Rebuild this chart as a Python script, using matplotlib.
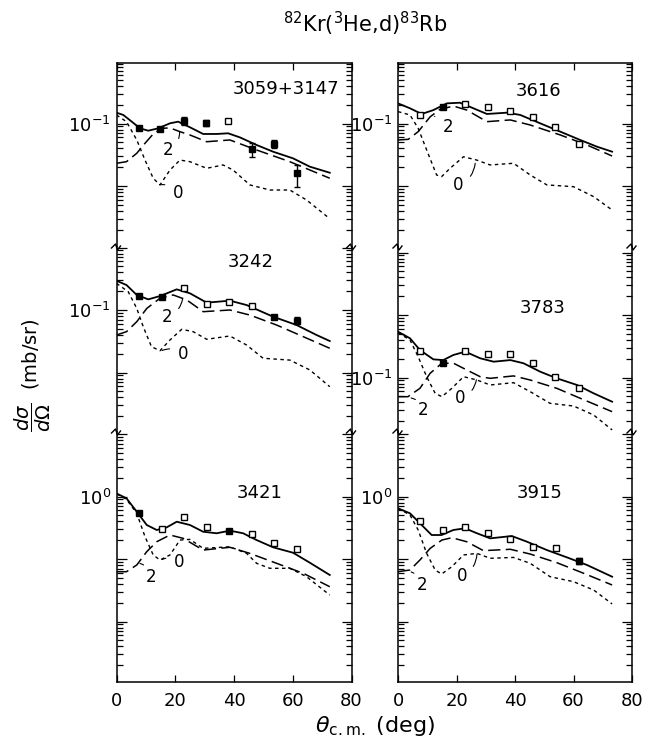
import numpy as np
import matplotlib
matplotlib.use('Agg')
import matplotlib.pyplot as plt
from matplotlib.lines import Line2D
from matplotlib.ticker import LogLocator, FixedLocator, NullFormatter, FuncFormatter

plt.rcParams['font.family'] = 'DejaVu Sans'
plt.rcParams['mathtext.fontset'] = 'dejavusans'

# ---------------- 3059+3147 ----------------
th_a_sum = [0, 2.3, 5.2, 8.0, 10.8, 14.2, 18.2, 21.0, 25.0, 29.5, 34.1, 38.0, 42.0, 47.7, 53.3, 60.1, 65.8, 72.6]
a_sum = [0.149, 0.137, 0.107, 0.0837, 0.0767, 0.0837, 0.1007, 0.107, 0.087, 0.068, 0.068, 0.0697, 0.060, 0.0453, 0.0354, 0.0277, 0.0204, 0.0163]
th_a_l2 = [0, 3.4, 6.9, 9.7, 12.5, 15.4, 18.2, 21.6, 25.0, 30.7, 38.6, 47.7, 59.0, 72.6]
a_l2 = [0.0231, 0.0245, 0.0334, 0.0482, 0.068, 0.0837, 0.085, 0.074, 0.0655, 0.0511, 0.0545, 0.0377, 0.0245, 0.0133]
th_a_l0 = [0, 3.4, 6.9, 9.7, 12.5, 14.8, 18.2, 21.6, 25.0, 30.7, 36.3, 39.7, 45.4, 52.2, 59.0, 64.7, 72.6]
a_l0 = [0.137, 0.107, 0.0545, 0.026, 0.0133, 0.0104, 0.018, 0.026, 0.0245, 0.0192, 0.0217, 0.018, 0.0104, 0.00863, 0.00863, 0.00597, 0.0030]
th_a_exp = [7.8, 14.8, 23.0, 30.4, 38.0, 46.0, 53.7, 61.3]
a_exp = [0.0837, 0.0808, 0.110, 0.103, 0.111, 0.0387, 0.0465, 0.016]
a_lo = [0.0837, 0.0808, 0.095, 0.092, 0.111, 0.0287, 0.040, 0.00975]
a_hi = [0.0837, 0.0808, 0.127, 0.115, 0.111, 0.0482, 0.054, 0.0217]
a_fill = [1, 1, 1, 1, 0, 1, 1, 1]

# ---------------- 3616 ----------------
th_b_sum = [0, 4.1, 8.1, 12.1, 16.7, 21.2, 25.8, 30.4, 37.2, 41.8, 48.6, 55.5, 62.3, 68.0, 73.2]
b_sum = [0.21, 0.175, 0.142, 0.164, 0.21, 0.215, 0.175, 0.142, 0.149, 0.137, 0.1007, 0.074, 0.0545, 0.0426, 0.0354]
th_b_l2 = [0, 3.5, 6.9, 11.0, 14.4, 19.0, 23.5, 30.4, 38.4, 45.2, 55.5, 64.6, 73.2]
b_l2 = [0.0545, 0.0558, 0.074, 0.128, 0.169, 0.19, 0.164, 0.107, 0.114, 0.0946, 0.0655, 0.0453, 0.0302]
th_b_l0 = [0, 4.1, 6.9, 9.8, 13.2, 14.9, 17.8, 22.4, 26.9, 31.5, 39.5, 45.2, 50.9, 60.0, 66.9, 73.2]
b_l0 = [0.155, 0.137, 0.0837, 0.0377, 0.015, 0.0141, 0.0192, 0.0294, 0.026, 0.0217, 0.0231, 0.015, 0.0104, 0.00975, 0.00675, 0.00413]
th_b_exp = [7.5, 15.3, 23.0, 30.6, 38.4, 46.1, 53.8, 61.8]
b_exp = [0.137, 0.182, 0.203, 0.182, 0.16, 0.126, 0.087, 0.047]
b_fill = [0, 1, 0, 0, 0, 0, 0, 0]

# ---------------- 3242 ----------------
th_c_sum = [0, 3.4, 6.9, 10.8, 14.8, 20.5, 25.0, 30.7, 38.6, 44.3, 53.3, 61.3, 68.1, 72.6]
c_sum = [0.294, 0.251, 0.174, 0.148, 0.167, 0.214, 0.185, 0.131, 0.141, 0.12, 0.0782, 0.0575, 0.0398, 0.0319]
th_c_l2 = [0, 3.4, 6.9, 10.3, 14.8, 19.3, 23.9, 29.5, 38.6, 45.4, 54.5, 63.6, 72.6]
c_l2 = [0.0398, 0.045, 0.065, 0.106, 0.154, 0.174, 0.145, 0.094, 0.1, 0.083, 0.0575, 0.0374, 0.0244]
th_c_l0 = [0, 4.0, 6.9, 9.1, 11.9, 14.8, 18.2, 22.2, 26.1, 30.7, 38.6, 44.3, 49.9, 59.0, 65.8, 72.6]
c_l0 = [0.267, 0.196, 0.106, 0.054, 0.0259, 0.0223, 0.0331, 0.0491, 0.045, 0.034, 0.0384, 0.0275, 0.0169, 0.0158, 0.011, 0.00593]
th_c_exp = [7.8, 15.4, 23.1, 30.7, 38.4, 46.0, 53.7, 61.5]
c_exp = [0.167, 0.16, 0.222, 0.125, 0.133, 0.117, 0.078, 0.0675]
c_lo = [0.167, 0.16, 0.222, 0.125, 0.133, 0.117, 0.078, 0.059]
c_hi = [0.167, 0.16, 0.222, 0.125, 0.133, 0.117, 0.078, 0.077]
c_fill = [1, 1, 0, 0, 0, 0, 1, 1]

# ---------------- 3783 ----------------
th_d_sum = [0, 4.1, 7.5, 12.1, 15.5, 18.9, 23.0, 28.1, 32.7, 38.4, 42.9, 48.6, 54.3, 61.2, 66.9, 73.2]
d_sum = [0.541, 0.424, 0.275, 0.195, 0.19, 0.229, 0.259, 0.203, 0.179, 0.19, 0.169, 0.124, 0.097, 0.0759, 0.0558, 0.041]
th_d_l2 = [0, 3.4, 7.5, 11.0, 15.0, 19.0, 23.5, 28.1, 31.5, 39.5, 45.2, 54.3, 62.3, 73.2]
d_l2 = [0.0493, 0.0493, 0.0671, 0.117, 0.169, 0.169, 0.132, 0.103, 0.097, 0.106, 0.0912, 0.0671, 0.0465, 0.0284]
th_d_l0 = [0, 4.1, 6.9, 9.8, 12.7, 15.0, 18.4, 22.4, 27.0, 31.5, 39.5, 45.2, 52.0, 60.0, 66.9, 73.2]
d_l0 = [0.521, 0.398, 0.215, 0.103, 0.0558, 0.0493, 0.0671, 0.103, 0.0912, 0.0759, 0.0826, 0.0593, 0.0386, 0.035, 0.0251, 0.0145]
th_d_exp = [7.5, 15.3, 23.0, 30.6, 38.4, 46.1, 53.8, 61.8]
d_exp = [0.268, 0.169, 0.268, 0.235, 0.235, 0.172, 0.1007, 0.0671]
d_fill = [0, 1, 0, 0, 0, 0, 0, 0]

# ---------------- 3421 ----------------
th_e_sum = [0, 3.4, 6.9, 10.3, 13.7, 17.1, 20.5, 25.0, 29.5, 34.1, 38.6, 43.1, 47.7, 53.3, 60.1, 65.8, 72.6]
e_sum = [1.12, 0.936, 0.571, 0.35, 0.291, 0.321, 0.395, 0.35, 0.273, 0.258, 0.284, 0.258, 0.201, 0.154, 0.126, 0.0873, 0.0555]
th_e_l2 = [0, 3.4, 6.9, 10.3, 13.7, 18.2, 22.7, 29.5, 38.6, 45.4, 54.5, 63.6, 72.6]
e_l2 = [0.0626, 0.0626, 0.0802, 0.131, 0.189, 0.242, 0.214, 0.139, 0.154, 0.123, 0.0853, 0.059, 0.036]
th_e_l0 = [0, 3.4, 6.9, 9.7, 12.5, 14.8, 18.2, 21.6, 25.0, 29.5, 38.6, 44.3, 47.7, 52.2, 59.0, 64.7, 72.6]
e_l0 = [1.1, 0.9, 0.538, 0.228, 0.116, 0.0964, 0.116, 0.201, 0.206, 0.148, 0.157, 0.123, 0.0853, 0.071, 0.071, 0.0521, 0.0265]
th_e_exp = [7.8, 15.4, 23.1, 30.7, 38.4, 46.0, 53.7, 61.5]
e_exp = [0.551, 0.299, 0.465, 0.329, 0.284, 0.251, 0.178, 0.143]
e_fill = [1, 0, 0, 0, 1, 0, 0, 0]

# ---------------- 3915 ----------------
th_f_sum = [0, 4.1, 7.5, 11.5, 14.9, 18.9, 22.9, 27.0, 31.5, 38.9, 44.1, 50.9, 57.8, 64.6, 73.2]
f_sum = [0.647, 0.538, 0.373, 0.242, 0.242, 0.291, 0.31, 0.258, 0.214, 0.233, 0.189, 0.139, 0.106, 0.0802, 0.0521]
th_f_l2 = [0, 4.1, 7.5, 11.0, 15.0, 18.4, 23.5, 29.2, 38.4, 45.2, 54.3, 63.5, 73.2]
f_l2 = [0.0626, 0.0667, 0.0964, 0.148, 0.201, 0.219, 0.189, 0.136, 0.143, 0.12, 0.0873, 0.059, 0.0384]
th_f_l0 = [0, 4.1, 6.9, 9.8, 12.7, 14.9, 18.4, 22.4, 27.0, 31.5, 39.5, 45.2, 52.0, 60.0, 66.9, 73.2]
f_l0 = [0.647, 0.506, 0.291, 0.123, 0.0667, 0.0575, 0.0753, 0.116, 0.123, 0.1026, 0.106, 0.0853, 0.0521, 0.0434, 0.0319, 0.0191]
th_f_exp = [7.5, 15.3, 23.0, 30.6, 38.4, 46.1, 54.0, 62.0]
f_exp = [0.406, 0.291, 0.321, 0.258, 0.207, 0.157, 0.152, 0.094]
f_lo = [0.406, 0.291, 0.321, 0.258, 0.207, 0.157, 0.152, 0.084]
f_hi = [0.406, 0.291, 0.321, 0.258, 0.207, 0.157, 0.152, 0.105]
f_fill = [0, 0, 0, 0, 0, 0, 0, 1]

W, H = 653, 746
fig = plt.figure(figsize=(W / 100, H / 100), dpi=100)

def fx(px):
    return px / W

def fy(py):
    return 1 - py / H

col_x = [116.5, 398]
col_w = [235, 234]
rows = [(63, 247), (247, 432), (432, 682)]

def make_ax(col, row, ylim, lab):
    x0 = col_x[col]
    top, bot = rows[row]
    ax = fig.add_axes([fx(x0), fy(bot), fx(col_w[col]), (bot - top) / H])
    ax.set_yscale('log')
    ax.set_xlim(0, 80)
    ax.set_ylim(*ylim)
    ax.yaxis.set_major_locator(LogLocator(base=10, numticks=20))
    ax.yaxis.set_minor_locator(LogLocator(base=10, subs=np.arange(2, 10), numticks=20))
    ax.yaxis.set_minor_formatter(NullFormatter())
    ax.yaxis.set_major_formatter(FuncFormatter(
        lambda v, p, lab=lab: (r'$10^{%d}$' % lab) if abs(np.log10(v) - lab) < 1e-6 else ''))
    ax.tick_params(axis='y', which='both', direction='in', left=True, right=True, width=0.9)
    ax.tick_params(axis='y', which='major', length=7, labelsize=13, pad=4)
    ax.tick_params(axis='y', which='minor', length=4)
    ax.xaxis.set_major_locator(FixedLocator([0, 20, 40, 60, 80]))
    for s in ax.spines.values():
        s.set_linewidth(1.1)
    if row == 0:
        ax.spines['bottom'].set_visible(False)
        ax.tick_params(axis='x', bottom=False, top=True, labelbottom=False, direction='in', length=5, width=0.9)
    elif row == 1:
        ax.spines['bottom'].set_visible(False)
        ax.spines['top'].set_visible(False)
        ax.tick_params(axis='x', bottom=False, top=False, labelbottom=False)
    else:
        ax.spines['top'].set_visible(False)
        ax.tick_params(axis='x', bottom=True, top=False, direction='in', length=5, width=0.9,
                       labelsize=13, pad=7)
    return ax

def draw(ax, th_s, v_s, th_2, v_2, th_0, v_0, th_x, v_x, fill, lo=None, hi=None):
    ax.plot(th_s, v_s, color='black', lw=1.3, solid_joinstyle='round')
    ax.plot(th_2, v_2, color='black', lw=1.1, dashes=(8, 3.5))
    ax.plot(th_0, v_0, color='black', lw=1.0, dashes=(2.5, 2.5))
    th_x = np.array(th_x)
    v_x = np.array(v_x)
    fill = np.array(fill, dtype=bool)
    if lo is not None:
        lo = np.array(lo)
        hi = np.array(hi)
        has = (hi - lo) > 0
        ax.errorbar(th_x[has], v_x[has], yerr=[v_x[has] - lo[has], hi[has] - v_x[has]],
                    fmt='none', ecolor='black', elinewidth=1.0, capsize=2.2, capthick=1.0)
    ax.plot(th_x[fill], v_x[fill], 's', ms=4.5, mfc='black', mec='black', mew=1.0)
    ax.plot(th_x[~fill], v_x[~fill], 's', ms=4.5, mfc='white', mec='black', mew=1.0)

def lab(ax, txt, tx, ty, px, py):
    ax.annotate(txt, xy=(px, py), xytext=(tx, ty), fontsize=12, ha='center', va='center',
                arrowprops=dict(arrowstyle='-', lw=0.8, color='black', shrinkA=4, shrinkB=0,
                                connectionstyle='arc3,rad=0.3'))

def name(ax, txt, x, y):
    ax.text(x, y, txt, transform=ax.transAxes, fontsize=13, ha='center', va='center')

ax = make_ax(0, 0, (10 ** -2.976, 10 ** -0.032), -1)
draw(ax, th_a_sum, a_sum, th_a_l2, a_l2, th_a_l0, a_l0, th_a_exp, a_exp, a_fill, a_lo, a_hi)
lab(ax, '2', 17.6, 0.037, 21.5, 0.074)
lab(ax, '0', 21.0, 0.0076, 15.0, 0.0105)
name(ax, '3059+3147', 0.72, 0.86)

ax = make_ax(1, 0, (10 ** -2.976, 10 ** -0.032), -1)
draw(ax, th_b_sum, b_sum, th_b_l2, b_l2, th_b_l0, b_l0, th_b_exp, b_exp, b_fill)
lab(ax, '2', 17.2, 0.089, 12.5, 0.13)
lab(ax, '0', 20.7, 0.0104, 26.4, 0.0231)
name(ax, '3616', 0.60, 0.85)

ax = make_ax(0, 1, (10 ** -2.952, 10 ** 0.008), -1)
draw(ax, th_c_sum, c_sum, th_c_l2, c_l2, th_c_l0, c_l0, th_c_exp, c_exp, c_fill, c_lo, c_hi)
lab(ax, '2', 17.1, 0.078, 22.5, 0.15)
lab(ax, '0', 22.7, 0.0196, 15.5, 0.0225)
name(ax, '3242', 0.57, 0.92)

ax = make_ax(1, 1, (10 ** -1.872, 10 ** 1.088), -1)
draw(ax, th_d_sum, d_sum, th_d_l2, d_l2, th_d_l0, d_l0, th_d_exp, d_exp, d_fill)
lab(ax, '2', 8.7, 0.0302, 4.5, 0.047)
lab(ax, '0', 21.2, 0.0465, 26.8, 0.092)
name(ax, '3783', 0.62, 0.67)

ax = make_ax(0, 2, (10 ** -2.968, 10 ** 1.032), 0)
draw(ax, th_e_sum, e_sum, th_e_l2, e_l2, th_e_l0, e_l0, th_e_exp, e_exp, e_fill)
lab(ax, '2', 11.9, 0.052, 8.0, 0.085)
lab(ax, '0', 21.4, 0.0906, 15.5, 0.098)
name(ax, '3421', 0.61, 0.755)

ax = make_ax(1, 2, (10 ** -2.968, 10 ** 1.032), 0)
draw(ax, th_f_sum, f_sum, th_f_l2, f_l2, th_f_l0, f_l0, th_f_exp, f_exp, f_fill, f_lo, f_hi)
lab(ax, '2', 8.1, 0.0384, 4.5, 0.062)
lab(ax, '0', 21.8, 0.0534, 27.0, 0.12)
name(ax, '3915', 0.607, 0.755)

# axis-break marks on both spines of each column
for c in range(2):
    for xe in (col_x[c], col_x[c] + col_w[c]):
        for yb in (247, 432):
            zx = [xe - 5, xe - 1, xe + 1, xe + 4]
            zy = [yb + 1, yb - 3, yb + 3, yb - 1]
            fig.add_artist(Line2D([fx(v) for v in zx], [fy(v) for v in zy],
                                  color='black', lw=1.0))

fig.text(0.56, 0.968, r'$^{82}$Kr($^{3}$He,d)$^{83}$Rb', fontsize=15, ha='center', va='center')
fig.text(0.574, 0.027, r'$\theta_{\mathrm{c.m.}}$ (deg)', fontsize=16, ha='center', va='center')
fig.text(0.05, 0.497, r'$\dfrac{d\sigma}{d\Omega}$  (mb/sr)', fontsize=14, rotation=90,
         ha='center', va='center')

fig.savefig('out.png', dpi=100, facecolor='white')
